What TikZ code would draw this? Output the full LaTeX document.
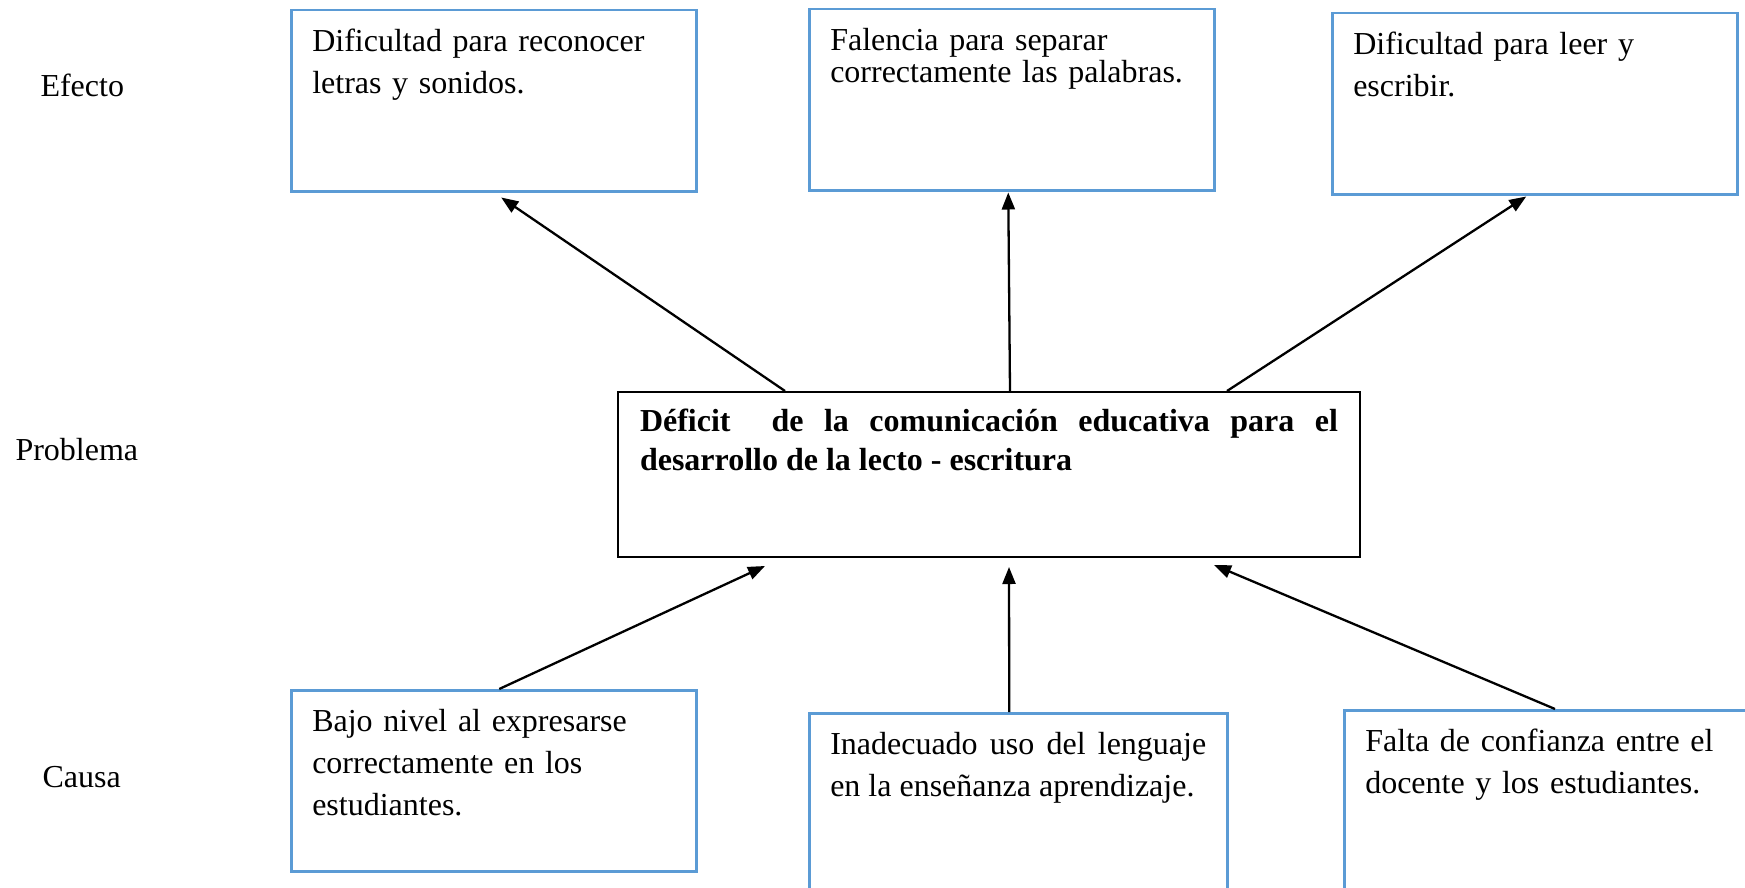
\documentclass[tikz,border=0pt]{standalone}
\usepackage{fontspec}
\setmainfont{Liberation Serif}
\usetikzlibrary{arrows.meta}
\definecolor{azul}{RGB}{91,155,213}
\tolerance=3000

\begin{document}
\begin{tikzpicture}[x=1pt,y=-1pt]
        \tikzstyle{every node}=[font=\fontsize{32}{42}\selectfont];
        \tikzstyle{caja}=[draw=azul,line width=2.5pt,anchor=north west,inner xsep=21pt,inner ysep=0pt,
            text width=363pt,text height=41pt,text depth=140pt,align=left];
        \tikzstyle{flecha}=[line width=2.3pt,-{Triangle[length=17pt,width=13pt]}];
        \useasboundingbox (0,0) rectangle (1745,888);
        %niveles
        \node[anchor=base west] (ef) at (37,97) {Efecto};
        \node[anchor=base west] (pr) at (12,460) {Problema};
        \node[anchor=base west] (ca) at (39,787) {Causa};
        %efectos
        \node[caja] (e1) at (290,9) {Dificultad para reconocer\\letras y sonidos.};
        \node[caja,font=\fontsize{32}{32}\selectfont] (e2) at (808,8) {Falencia para separar\\correctamente las palabras.};
        \node[caja] (e3) at (1331,12) {Dificultad para leer y\\escribir.};
        %problema
        \node[draw,line width=2pt,anchor=north west,inner xsep=22pt,inner ysep=0pt,text width=698pt,
            text height=39pt,text depth=126pt,align=justify,font=\bfseries\fontsize{32}{39}\selectfont]
            (p) at (617,391) {D\'eficit\ \ de la comunicaci\'on educativa para el\linebreak desarrollo de la lecto - escritura};
        %causas
        \node[caja] (c1) at (290,689) {Bajo nivel al expresarse\\correctamente en los\\estudiantes.};
        \node[caja,text width=376pt,text depth=200pt,align=justify] (c2) at (808,712) {Inadecuado uso del lenguaje\linebreak en la ense\~nanza aprendizaje.};
        \node[caja,text depth=200pt] (c3) at (1343,709) {Falta de confianza entre el\\docente y los estudiantes.};
        %flechas
        \draw[flecha] ([xshift=168pt]p.north west) -- ([xshift=7.5pt,yshift=-5pt]e1.south);
        \draw[flecha] ([xshift=21pt]p.north) -- ([xshift=-3.5pt,yshift=-1pt]e2.south);
        \draw[flecha] ([xshift=238pt]p.north) -- ([xshift=-8.5pt,yshift=-1pt]e3.south);
        \draw[flecha] ([xshift=5.5pt]c1.north) -- ([xshift=148pt,yshift=-8pt]p.south west);
        \draw[flecha] ([xshift=-9pt]c2.north) -- ([xshift=20pt,yshift=-9pt]p.south);
        \draw[flecha] ([xshift=212pt]c3.north west) -- ([xshift=225pt,yshift=-7pt]p.south);
    \end{tikzpicture}
\end{document}
